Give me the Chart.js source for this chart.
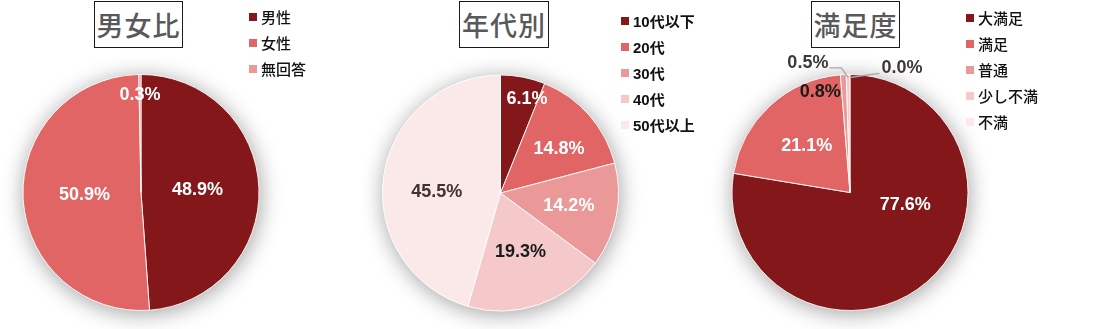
<!DOCTYPE html>
<html lang="ja">
<head>
<meta charset="utf-8">
<script src="https://cdn.jsdelivr.net/npm/chart.js@4.4.1/dist/chart.umd.min.js"></script>
<style>
  html, body { margin: 0; padding: 0; background: #fff; }
  #stage { position: relative; width: 1117px; height: 329px; overflow: hidden; background: #fff; }
  canvas.pie { position: absolute; left: 0; top: 0; pointer-events: none; }
  .title {
    position: absolute; top: 1px; height: 47px; box-sizing: border-box;
    border: 1px solid #1a1a1a; background: #fff;
    font-family: "Noto Sans CJK JP", "Noto Sans", sans-serif; font-size: 27px; font-weight: 500;
    color: #595959; text-align: center; line-height: 45px; letter-spacing: 1px;
  }
  .legend { position: absolute; font-family: "Noto Sans CJK JP", sans-serif; font-size: 15px; font-weight: 500; color: #111; }
  .legend .item { position: absolute; left: 0; height: 20px; line-height: 20px; white-space: nowrap; }
  .legend .sw { position: absolute; left: 0; top: 6px; width: 8px; height: 8px; }
  .legend .tx { position: absolute; left: 12px; top: 0; }
  .legend.bold { font-weight: bold; }
  .legend.bold .tx .num { font-family: "Liberation Sans", Arial, sans-serif; }
</style>
</head>
<body>
<div id="stage"></div>
<script>
// ---------- data ----------
const genderLabels = ['男性', '女性', '無回答'];
const genderValues = [48.9, 50.9, 0.3];

const ageLabels = ['10代以下', '20代', '30代', '40代', '50代以上'];
const ageValues = [6.1, 14.8, 14.2, 19.3, 45.5];

const satLabels = ['大満足', '満足', '普通', '少し不満', '不満'];
const satValues = [77.6, 21.1, 0.8, 0.5, 0.0];

const chartTitles = ['男女比', '年代別', '満足度'];

// ---------- styles ----------
const sliceColors = ['#84171A', '#E26565', '#EA9898', '#F5C9CA', '#FBE9EA'];
const W = 1117, H = 329, R = 118;

const charts = [
  {
    title: chartTitles[0], labels: genderLabels, values: genderValues,
    center: [141, 192.5], titleBox: [94, 89], legendPos: [249, 7], legendBold: false,
    labelColors: ['#fff', '#fff', '#fff'],
    place: [{ r: 0.48 }, { r: 0.48 }, { r: 0.83 }]
  },
  {
    title: chartTitles[1], labels: ageLabels, values: ageValues,
    center: [500.5, 193], titleBox: [459, 90], legendPos: [621, 11], legendBold: true,
    labelColors: ['#fff', '#fff', '#fff', '#1a1a1a', '#3d3330'],
    place: [{ r: 0.83, angle: 15.7 }, { r: 0.62, angle: 53 }, { r: 0.59 }, { r: 0.53 }, { r: 0.54, angle: 271 }]
  },
  {
    title: chartTitles[2], labels: satLabels, values: satValues,
    center: [850, 192.5], titleBox: [811, 89], legendPos: [966, 8], legendBold: false,
    labelColors: ['#fff', '#fff', '#1a1a1a', '#3f3a38', '#3f3a38'],
    place: [{ r: 0.48, angle: 103 }, { r: 0.54 }, { r: 0.89, angle: 343.5 },
            { r: 1.155, angle: 342, leader: 'left', elbow: 12 },
            { r: 1.14, angle: 22.7, leader: 'right', elbow: 0 }]
  }
];

// ---------- plugins ----------
const shadowPlugin = {
  id: 'pieShadow',
  beforeDatasetsDraw(chart) {
    const arc = chart.getDatasetMeta(0).data[0];
    if (!arc) return;
    const p = arc.getProps(['x', 'y', 'outerRadius'], true);
    const ctx = chart.ctx;
    ctx.save();
    ctx.shadowColor = 'rgba(0,0,0,0.38)';
    ctx.shadowBlur = 22;
    ctx.shadowOffsetX = 1;
    ctx.shadowOffsetY = 3;
    ctx.beginPath();
    ctx.arc(p.x, p.y, p.outerRadius, 0, Math.PI * 2);
    ctx.fillStyle = '#ffffff';
    ctx.fill();
    ctx.restore();
  }
};

const labelPlugin = {
  id: 'pctLabels',
  afterDatasetsDraw(chart, args, opts) {
    const ctx = chart.ctx;
    const meta = chart.getDatasetMeta(0);
    const vals = chart.data.datasets[0].data;
    ctx.save();
    ctx.font = 'bold 18px "Liberation Sans", Arial, sans-serif';
    ctx.textAlign = 'center';
    ctx.textBaseline = 'middle';
    meta.data.forEach((arc, i) => {
      const p = arc.getProps(['x', 'y', 'startAngle', 'endAngle', 'outerRadius'], true);
      const cfg = opts.place[i] || { r: 0.55 };
      const mid = (p.startAngle + p.endAngle) / 2;
      const ang = cfg.angle != null ? (cfg.angle - 90) * Math.PI / 180 : mid;
      const rr = p.outerRadius * cfg.r;
      const tx = p.x + Math.cos(ang) * rr;
      const ty = p.y + Math.sin(ang) * rr;
      const text = vals[i].toFixed(1) + '%';
      if (cfg.leader) {
        const w = ctx.measureText(text).width;
        const sx = p.x + Math.cos(mid) * (p.outerRadius - 1);
        const sy = p.y + Math.sin(mid) * (p.outerRadius - 1) + 2;
        const ex = cfg.leader === 'left' ? tx + w / 2 + 1 : tx - w / 2 - 2;
        const ey = ty + 5;
        const bx = cfg.leader === 'left' ? ex + cfg.elbow : ex - cfg.elbow;
        ctx.beginPath();
        ctx.moveTo(sx, sy);
        ctx.lineTo(bx, ey);
        ctx.lineTo(ex, ey);
        ctx.strokeStyle = '#a6a6a6';
        ctx.lineWidth = 1.3;
        ctx.stroke();
      }
      ctx.fillStyle = opts.colors[i];
      ctx.fillText(text, tx, ty);
    });
    ctx.restore();
  }
};

// ---------- build ----------
const stage = document.getElementById('stage');

charts.forEach((c) => {
  const cv = document.createElement('canvas');
  cv.className = 'pie';
  cv.width = W; cv.height = H;
  cv.style.width = W + 'px'; cv.style.height = H + 'px';
  stage.appendChild(cv);

  const half = R + 2;
  const [cx, cy] = c.center;
  new Chart(cv.getContext('2d'), {
    type: 'pie',
    data: {
      labels: c.labels,
      datasets: [{
        data: c.values,
        backgroundColor: sliceColors.slice(0, c.values.length),
        borderColor: 'rgba(255,255,255,0.85)',
        borderWidth: 1
      }]
    },
    options: {
      responsive: false,
      animation: false,
      radius: R,
      layout: { padding: { left: cx - half, right: W - cx - half, top: cy - half, bottom: H - cy - half } },
      plugins: {
        legend: { display: false },
        tooltip: { enabled: false },
        title: { display: false },
        pctLabels: { colors: c.labelColors, place: c.place }
      }
    },
    plugins: [shadowPlugin, labelPlugin]
  });

  // title box
  const t = document.createElement('div');
  t.className = 'title';
  t.style.left = c.titleBox[0] + 'px';
  t.style.width = c.titleBox[1] + 'px';
  t.textContent = c.title;
  stage.appendChild(t);

  // legend
  const lg = document.createElement('div');
  lg.className = 'legend' + (c.legendBold ? ' bold' : '');
  lg.style.left = c.legendPos[0] + 'px';
  lg.style.top = c.legendPos[1] + 'px';
  c.labels.forEach((lab, i) => {
    const it = document.createElement('div');
    it.className = 'item';
    it.style.top = (i * 26) + 'px';
    const sw = document.createElement('span');
    sw.className = 'sw';
    sw.style.background = sliceColors[i];
    const tx = document.createElement('span');
    tx.className = 'tx';
    const m = lab.match(/^(\d+)(.*)$/);
    if (m) {
      const n = document.createElement('span');
      n.className = 'num';
      n.textContent = m[1];
      tx.appendChild(n);
      tx.appendChild(document.createTextNode(m[2]));
    } else {
      tx.textContent = lab;
    }
    it.appendChild(sw);
    it.appendChild(tx);
    lg.appendChild(it);
  });
  stage.appendChild(lg);
});
</script>
</body>
</html>
